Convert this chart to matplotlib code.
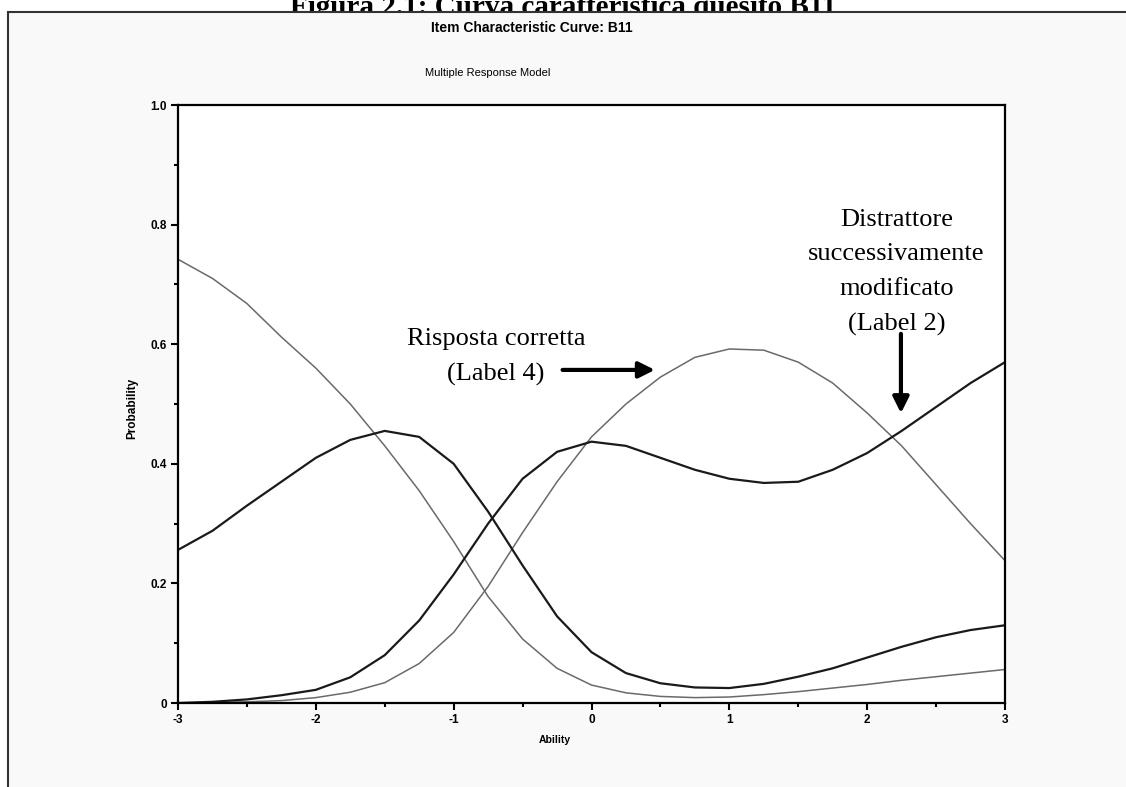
import matplotlib
matplotlib.use('Agg')
import matplotlib.pyplot as plt
from matplotlib.patches import Rectangle
from matplotlib.ticker import MultipleLocator

# ability grid and the four option curves
ability = [-3, -2.75, -2.5, -2.25, -2, -1.75, -1.5, -1.25, -1, -0.75, -0.5,
           -0.25, 0, 0.25, 0.5, 0.75, 1, 1.25, 1.5, 1.75, 2, 2.25, 2.5,
           2.75, 3]
label_1 = [0.742, 0.71, 0.668, 0.612, 0.56, 0.50, 0.43, 0.355, 0.27, 0.178,
           0.107, 0.058, 0.03, 0.017, 0.011, 0.009, 0.010, 0.014, 0.019,
           0.025, 0.031, 0.038, 0.044, 0.05, 0.056]
label_3 = [0.256, 0.288, 0.33, 0.37, 0.41, 0.44, 0.455, 0.445, 0.40, 0.32,
           0.23, 0.145, 0.085, 0.05, 0.033, 0.026, 0.025, 0.032, 0.044,
           0.058, 0.076, 0.094, 0.11, 0.122, 0.13]
label_2 = [0.0, 0.002, 0.006, 0.013, 0.022, 0.043, 0.08, 0.138, 0.215, 0.30,
           0.375, 0.42, 0.437, 0.43, 0.41, 0.39, 0.375, 0.368, 0.37, 0.39,
           0.418, 0.455, 0.495, 0.535, 0.57]
label_4 = [0.0, 0.001, 0.002, 0.004, 0.009, 0.018, 0.034, 0.066, 0.118,
           0.195, 0.285, 0.37, 0.445, 0.50, 0.545, 0.578, 0.592, 0.59, 0.57,
           0.535, 0.485, 0.43, 0.365, 0.30, 0.238]

y_ticks = [0, 0.2, 0.4, 0.6, 0.8, 1.0]
y_labels = ['0', '0.2', '0.4', '0.6', '0.8', '1.0']
x_ticks = [-3, -2, -1, 0, 1, 2, 3]

sans = ['Liberation Sans Narrow', 'Liberation Sans', 'DejaVu Sans']
serif = ['Liberation Serif', 'DejaVu Serif']

W, H = 1126, 787
fig = plt.figure(figsize=(W / 100, H / 100), dpi=100)
fig.patch.set_facecolor('white')

# caption peeking out above the frame
fig.text(563 / W, 1 - 15 / H, 'Figura 2.1: Curva caratteristica quesito B11',
         ha='center', va='baseline', family=serif, fontweight='bold',
         fontsize=21, zorder=-3)
frame = Rectangle((8 / W, -0.01), 1.1, 1 - 12 / H + 0.01,
                  transform=fig.transFigure, facecolor='#f9f9f9',
                  edgecolor='#333333', linewidth=1.5, zorder=-2)
fig.patches.append(frame)

ax = fig.add_axes([178 / W, 1 - 703 / H, 827 / W, 598 / H])
ax.set_facecolor('white')

ax.plot(ability, label_1, color='#6a6a6a', lw=1.1)
ax.plot(ability, label_4, color='#6a6a6a', lw=1.1)
ax.plot(ability, label_3, color='#1a1a1a', lw=1.6)
ax.plot(ability, label_2, color='#1a1a1a', lw=1.6)

ax.set_xlim(-3, 3)
ax.set_ylim(0, 1)
ax.set_xticks(x_ticks)
ax.set_xticklabels([str(v) for v in x_ticks])
ax.set_yticks(y_ticks)
ax.set_yticklabels(y_labels)
ax.xaxis.set_minor_locator(MultipleLocator(0.5))
ax.yaxis.set_minor_locator(MultipleLocator(0.1))
ax.tick_params(which='major', length=5, width=1.5, direction='out', pad=3)
ax.tick_params(which='minor', length=3, width=1.5, direction='out')
for lab in ax.get_xticklabels() + ax.get_yticklabels():
    lab.set_family(sans)
    lab.set_fontweight('bold')
    lab.set_fontsize(8.5)
for sp in ax.spines.values():
    sp.set_linewidth(1.6)
    sp.set_color('black')

fig.text(532 / W, 1 - 28 / H, 'Item Characteristic Curve: B11',
         ha='center', va='center', family=sans, fontweight='bold',
         fontsize=10)
fig.text(488 / W, 1 - 73 / H, 'Multiple Response Model', ha='center',
         va='center', family=sans, fontsize=8)
fig.text(132 / W, 1 - 408 / H, 'Probability', ha='center', va='center',
         rotation=90, family=sans, fontweight='bold', fontsize=8.5)
fig.text(555 / W, 1 - 740 / H, 'Ability', ha='center', va='center',
         family=sans, fontweight='bold', fontsize=7.5)

# annotations
ax.text(-0.693, 0.579, 'Risposta corretta\n(Label 4)', ha='center',
        va='center', family=serif, fontsize=19, linespacing=1.74)
ax.annotate('', xy=(0.48, 0.557), xytext=(-0.23, 0.557),
            arrowprops=dict(arrowstyle='-|>', color='black', lw=3,
                            mutation_scale=24))
ax.text(2.213, 0.72, 'Distrattore\nsuccessivamente\nmodificato\n(Label 2)',
        ha='center', va='center', family=serif, fontsize=19,
        linespacing=1.74, zorder=1)
ax.annotate('', xy=(2.245, 0.48), xytext=(2.245, 0.622),
            arrowprops=dict(arrowstyle='-|>', color='black', lw=3,
                            mutation_scale=24), zorder=3)

fig.savefig('out.png', dpi=100)
